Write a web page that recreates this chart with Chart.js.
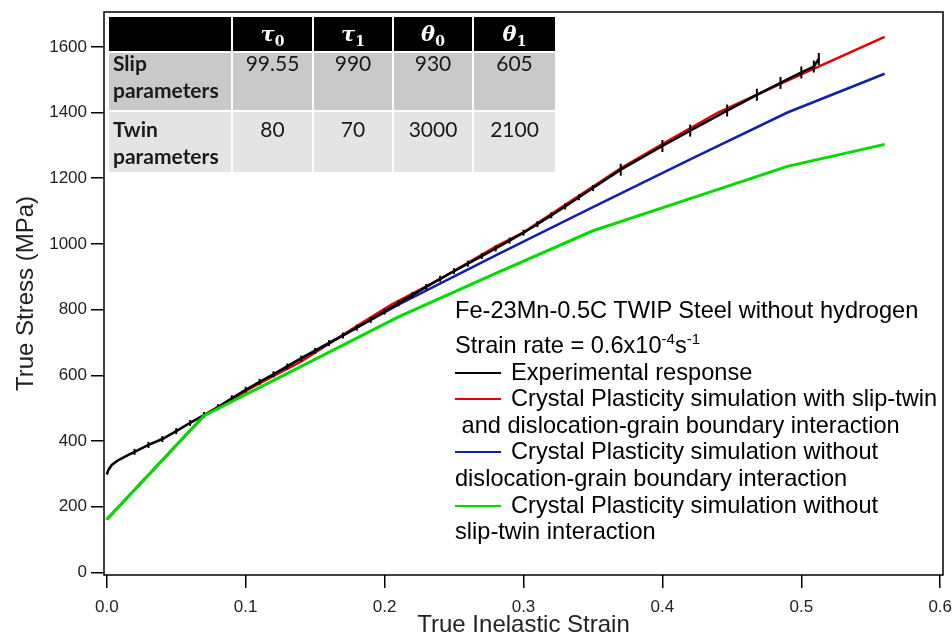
<!DOCTYPE html>
<html>
<head>
<meta charset="utf-8">
<script src="https://cdn.jsdelivr.net/npm/chart.js@4.4.1/dist/chart.umd.min.js"></script>
<style>
    html, body { margin: 0; padding: 0; background: #fff; overflow: hidden; }
    #wrap { position: relative; width: 952px; height: 636px; overflow: hidden; background: #fff; }
    #chart { position: absolute; left: 0; top: 0; }

    .params {
        position: absolute; left: 109px; top: 17px;
        display: grid;
        grid-template-columns: 122px 79px 78px 78px 81px;
        grid-template-rows: 34px 57px 60px;
        gap: 2px;
        font-family: Lato, 'Open Sans', sans-serif;
        font-size: 21px; color: #1a1a1a;
    }
    .params div { box-sizing: border-box; }
    .params .hd { background: #000; color: #fff; text-align: center; padding-top: 4px;
        font-family: 'DejaVu Serif', serif; font-weight: bold; font-style: italic; font-size: 21px; }
    .params .hd sub { font-size: 14px; font-style: normal; }
    .params .r1 { background: #c9c9c9; }
    .params .r2 { background: #e4e4e4; }
    .params .lbl { font-weight: bold; padding: 0 0 0 4px; line-height: 27px; }
    .params .val { text-align: center; padding: 0; line-height: 27px; }
    .params span { display: block; position: relative; top: -4px; }
    .params .r2 span { top: 3px; }

    .note { position: absolute; left: 455px; font-family: 'Liberation Sans', Arial, sans-serif;
        font-size: 23.6px; line-height: 26.6px; white-space: nowrap; color: #000; }
    .note sup { font-size: 15px; vertical-align: 9px; line-height: 0; }
    .key { display: inline-block; width: 46px; height: 2px; margin-right: 10px; vertical-align: 6px; }
</style>
</head>
<body>
<div id="wrap">
    <canvas id="chart" width="952" height="636"></canvas>

    <div class="params">
        <div class="hd"></div>
        <div class="hd">τ<sub>0</sub></div>
        <div class="hd">τ<sub>1</sub></div>
        <div class="hd">θ<sub>0</sub></div>
        <div class="hd">θ<sub>1</sub></div>
        <div class="r1 lbl"><span>Slip<br>parameters</span></div>
        <div class="r1 val"></div><div class="r1 val"></div><div class="r1 val"></div><div class="r1 val"></div>
        <div class="r2 lbl"><span>Twin<br>parameters</span></div>
        <div class="r2 val"></div><div class="r2 val"></div><div class="r2 val"></div><div class="r2 val"></div>
    </div>

    <div class="note" style="top:297px">Fe-23Mn-0.5C TWIP Steel without hydrogen</div>
    <div class="note" style="top:332px">Strain rate = 0.6x10<sup>-4</sup>s<sup>-1</sup></div>
    <div class="note" style="top:359px"><span class="key" style="background:#000"></span>Experimental response</div>
    <div class="note" style="top:385px"><span class="key" style="background:#e30000"></span>Crystal Plasticity simulation with slip-twin</div>
    <div class="note" style="top:412px">&nbsp;and dislocation-grain boundary interaction</div>
    <div class="note" style="top:438px"><span class="key" style="background:#1020a8"></span>Crystal Plasticity simulation without</div>
    <div class="note" style="top:465px">dislocation-grain boundary interaction</div>
    <div class="note" style="top:492px"><span class="key" style="background:#00dc00"></span>Crystal Plasticity simulation without</div>
    <div class="note" style="top:518px">slip-twin interaction</div>
</div>

<script>
// Axis ticks
const xTicks = [0, 0.1, 0.2, 0.3, 0.4, 0.5, 0.6];
const yTicks = [0, 200, 400, 600, 800, 1000, 1200, 1400, 1600];

const expStrain = [0, 0.0012, 0.0036, 0.0084, 0.0156, 0.02, 0.03, 0.04, 0.05, 0.06, 0.07, 0.08, 0.09,
    0.10, 0.11, 0.12, 0.13, 0.14, 0.15, 0.16, 0.17, 0.18, 0.19, 0.20, 0.21, 0.22, 0.23, 0.24, 0.25,
    0.26, 0.27, 0.28, 0.29, 0.30, 0.31, 0.32, 0.33, 0.34, 0.35, 0.37, 0.40, 0.42, 0.4466, 0.468,
    0.485, 0.50, 0.509, 0.5126];
const expStress = [298, 312, 327, 342, 358, 367, 388, 406, 430, 455, 479, 503, 530,
    556, 580, 603, 627, 651, 674, 698, 721, 745, 769, 794, 819, 844, 869, 894, 917,
    940, 963, 986, 1010, 1034, 1060, 1087, 1114, 1142, 1170, 1226, 1298, 1345, 1406, 1454,
    1490, 1522, 1540, 1563];

// CP simulation with slip-twin and dislocation-GB interaction
const fullStrain = [0, 0.07, 0.10, 0.14, 0.18, 0.205, 0.24, 0.28, 0.30, 0.335, 0.37, 0.405, 0.44, 0.49, 0.56];
const fullStress = [161, 477, 553, 642, 750, 815, 893, 992, 1035, 1133, 1230, 1316, 1400, 1497, 1630];

// CP simulations without one of the interactions
const simStrain = [0, 0.07, 0.14, 0.21, 0.28, 0.35, 0.42, 0.49, 0.56];
const noGbStress = [161, 477, 652, 815, 965, 1112, 1257, 1400, 1518];
const noSlipTwinStress = [161, 477, 627, 778, 910, 1040, 1138, 1236, 1303];

// Parameter table values
const slipParams = ['99.55', '990', '930', '605'];
const twinParams = ['80', '70', '3000', '2100'];

document.querySelectorAll('.params .r1.val').forEach((el, i) => { el.innerHTML = `<span>${slipParams[i]}</span>`; });
document.querySelectorAll('.params .r2.val').forEach((el, i) => { el.innerHTML = `<span>${twinParams[i]}</span>`; });

function toPoints(xs, ys) {
    return xs.map((x, i) => ({ x: x, y: ys[i] }));
}

// keep the plot box fixed: no extra room for overhanging tick labels
function noPad(s) {
    s.paddingLeft = 0; s.paddingRight = 0; s.paddingTop = 0; s.paddingBottom = 0;
}

const frame = {
    id: 'frame',
    afterDraw(chart) {
        const { ctx, chartArea: a } = chart;
        ctx.save();
        ctx.strokeStyle = '#000';
        ctx.lineWidth = 1.5;
        ctx.strokeRect(a.left, a.top, a.right - a.left, a.bottom - a.top);
        ctx.restore();
    }
};

const tickFont = { family: "'Liberation Sans', Arial, sans-serif", size: 17 };
const titleFont = { family: "'Liberation Sans', Arial, sans-serif", size: 24, lineHeight: 0.85 };

new Chart(document.getElementById('chart'), {
    type: 'scatter',
    data: {
        datasets: [
            {
                label: 'Crystal Plasticity simulation without slip-twin interaction',
                data: toPoints(simStrain, noSlipTwinStress),
                showLine: true, borderColor: '#00dc00', borderWidth: 3, pointRadius: 0, order: 0
            },
            {
                label: 'Experimental response',
                data: toPoints(expStrain, expStress),
                showLine: true, borderColor: '#000', borderWidth: 2.5,
                pointStyle: 'line', rotation: 90,
                pointBorderColor: '#000', pointBorderWidth: 2,
                pointRadius: c => (c.raw && c.raw.x > 0.36 ? 6 : (c.raw && c.raw.x >= 0.02 ? 3 : 0)),
                order: 1
            },
            {
                label: 'Crystal Plasticity simulation with slip-twin and dislocation-grain boundary interaction',
                data: toPoints(fullStrain, fullStress),
                showLine: true, borderColor: '#e30000', borderWidth: 2.5, pointRadius: 0, order: 2
            },
            {
                label: 'Crystal Plasticity simulation without dislocation-grain boundary interaction',
                data: toPoints(simStrain, noGbStress),
                showLine: true, borderColor: '#1020a8', borderWidth: 2.5, pointRadius: 0, order: 3
            }
        ]
    },
    options: {
        responsive: false,
        animation: false,
        layout: { padding: { top: 12, right: 9, left: 0, bottom: 0 } },
        plugins: { legend: { display: false }, tooltip: { enabled: false } },
        scales: {
            x: {
                type: 'linear', min: -0.002, max: 0.602,
                afterFit: s => { s.height = 61; noPad(s); },
                afterBuildTicks: s => { s.ticks = xTicks.map(v => ({ value: v })); },
                ticks: { callback: v => v.toFixed(1), font: tickFont, color: '#222', padding: 9, maxRotation: 0 },
                grid: { drawOnChartArea: false, tickLength: 13, color: '#000', lineWidth: 1.5 },
                border: { display: false },
                title: { display: true, text: 'True Inelastic Strain', font: titleFont, color: '#222', padding: { top: 0, bottom: 0 } }
            },
            y: {
                type: 'linear', min: -8, max: 1706,
                afterFit: s => { s.width = 104; noPad(s); },
                afterBuildTicks: s => { s.ticks = yTicks.map(v => ({ value: v })); },
                ticks: { callback: v => String(v), font: tickFont, color: '#222', padding: 4 },
                grid: { drawOnChartArea: false, tickLength: 13, color: '#000', lineWidth: 1.5 },
                border: { display: false },
                title: { display: true, text: 'True Stress (MPa)', font: titleFont, color: '#222', padding: { top: 16, bottom: 0 } }
            }
        }
    },
    plugins: [frame]
});
</script>
</body>
</html>
